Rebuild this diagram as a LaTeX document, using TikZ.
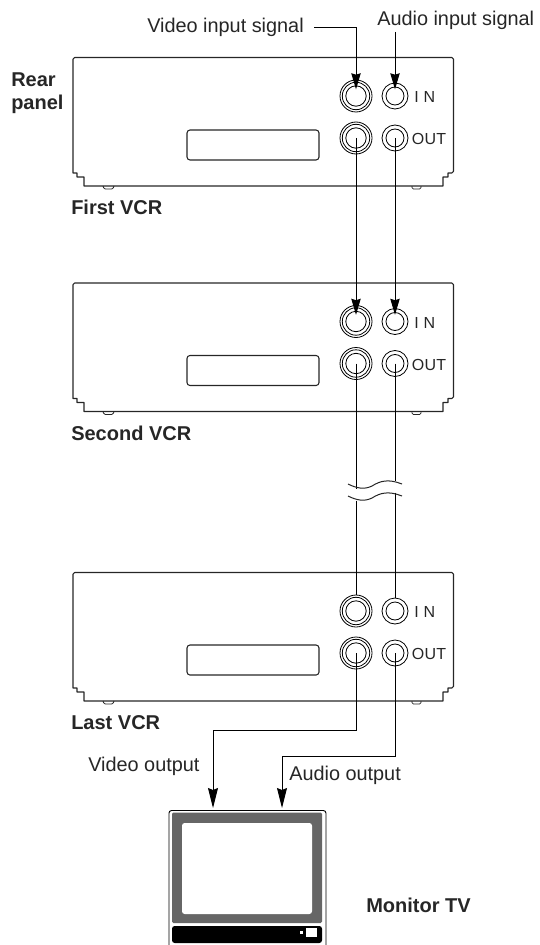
\documentclass[tikz,border=0pt]{standalone}
\usepackage{fontspec}
\setmainfont{Liberation Sans}
\usetikzlibrary{arrows.meta}
\definecolor{inkline}{gray}{0.15}
\definecolor{tvgrey}{gray}{0.40}
\tikzset{
  x=0.75pt,y=-0.75pt,
  body/.style={draw=inkline,line width=0.8pt,line join=round},
  thin ring/.style={draw=black,line width=0.6pt,fill=white},
  jackbig/.style={circle,thin ring,minimum size=24pt,inner sep=0pt},
  jacksmall/.style={circle,thin ring,minimum size=19.5pt,inner sep=0pt},
  wire/.style={draw=black,line width=0.7pt},
  arrowwire/.style={wire,-{Stealth[length=12pt,width=7pt,inset=1pt]}},
  longarrow/.style={wire,-{Stealth[length=15pt,width=7.5pt,inset=1.5pt]}},
  label/.style={font=\fontsize{14.9}{17}\selectfont,inner sep=0pt,text=black!85},
  boldlabel/.style={font=\fontsize{15}{17}\selectfont\bfseries,inner sep=0pt,align=left,text=black!85},
  jacklabel/.style={font=\fontsize{12}{14}\selectfont,inner sep=0pt,text=black!85},
}
\newcommand{\vcrunit}[2]{%
  \begin{scope}[shift={(0,#2)}]
    \draw[body] (73,173) [rounded corners=1.2pt] -- (73,57.5) -- (453.5,57.5) -- (453.5,173) [sharp corners] -- (448,173) -- (448,177) -- (443,177) -- (443,186)
      -- (84,186) -- (84,177) -- (77,177) -- (77,173) -- cycle;
    \draw[body,line width=0.6pt,rounded corners=1pt] (103,186) -- (104,189) -- (113,189) -- (114,186);
    \draw[body,line width=0.6pt,rounded corners=1pt] (412,186) -- (412,189) -- (421,189) -- (421,186);
    \draw[body,rounded corners=2.2pt] (187,130) rectangle (319,160);
    \node[jackbig] (v#1i) at (356,96) {};
    \draw[thin ring] (356,96) circle[radius=13.7];
    \draw[thin ring] (356,96) circle[radius=10.2];
    \node[jacksmall] (a#1i) at (395,96) {};
    \draw[thin ring] (395,96) circle[radius=9];
    \node[jackbig] (v#1o) at (356,138) {};
    \draw[thin ring] (356,138) circle[radius=13.7];
    \draw[thin ring] (356,138) circle[radius=10.2];
    \node[jacksmall] (a#1o) at (395,138) {};
    \draw[thin ring] (395,138) circle[radius=9];
    \node[jacklabel,anchor=west] (in#1) at (414,97) {\addfontfeature{LetterSpace=30}IN};
    \node[jacklabel,anchor=west] (out#1) at (411.5,139) {\addfontfeature{LetterSpace=2}OUT};
  \end{scope}}
\begin{document}
\begin{tikzpicture}
\useasboundingbox (0,0) rectangle (539,945);
\vcrunit{1}{0}
\vcrunit{2}{225.5}
\vcrunit{3}{515}
% texts
\node[label,anchor=west] (vin) at (147,27) {Video input signal};
\node[label,anchor=west] (ain) at (377,20) {Audio input signal};
\node[boldlabel,anchor=west] (rear) at (11,93.5) {Rear\\panel};
\node[boldlabel,anchor=west] (first) at (71,207) {First VCR};
\node[boldlabel,anchor=west] (second) at (71,433) {Second VCR};
\node[boldlabel,anchor=west] (last) at (71,723) {Last VCR};
\node[label,anchor=west] (vout) at (88,766.5) {Video output};
\node[label,anchor=west] (aout) at (289,775) {Audio output};
\node[boldlabel,anchor=west] (mon) at (366,905) {Monitor TV};
% monitor
\node[draw=black,line width=0.7pt,rounded corners=2pt,minimum width=117.75pt,minimum height=108pt,inner sep=0pt,anchor=north west] (tv) at (168.5,810) {};
\fill[tvgrey,rounded corners=1pt] (172,812.5) rectangle (322,923);
\fill[white,rounded corners=2pt] (182,823) rectangle (312,914);
\fill[black,rounded corners=2pt] (172,926) rectangle (322,943);
\fill[white] (306,928) rectangle (317,937);
\fill[white] (300,931) rectangle (302.5,933.5);
% connectors
\coordinate (vs) at (314,27);
\coordinate (as) at (395,32);
\coordinate (vb1) at (356,488.5);
\coordinate (ab1) at (395,480.5);
\coordinate (vb2) at (356,500.5);
\coordinate (ab2) at (395,492.5);
\coordinate (vk) at (213,730);
\coordinate (ak) at (282,756);
\coordinate (vt) at (213,808);
\coordinate (at) at (282,808);
\draw[arrowwire] (vs) -| ([yshift=5pt]v1i.center);
\draw[arrowwire] (as) -- ([yshift=5pt]a1i.center);
\draw[arrowwire] (v1o.center) -- ([yshift=5pt]v2i.center);
\draw[arrowwire] (a1o.center) -- ([yshift=5pt]a2i.center);
\draw[wire] (v2o.center) -- (vb1);
\draw[wire] (a2o.center) -- (ab1);
\draw[wire] (vb2) -- (v3i.north);
\draw[wire] (ab2) -- (a3i.north);
\draw[longarrow] (v3o.center) |- (vk) -- (vt);
\draw[longarrow] (a3o.center) |- (ak) -- (at);
% cable break marks
\draw[body,line width=0.75pt] (348,484) .. controls (356,488) and (364,490) .. (372,486) .. controls (380,481) and (388,478.5) .. (402,484);
\draw[body,line width=0.75pt] (348,496) .. controls (356,500) and (364,502) .. (372,498) .. controls (380,493) and (388,490.5) .. (402,496);
\end{tikzpicture}
\end{document}
